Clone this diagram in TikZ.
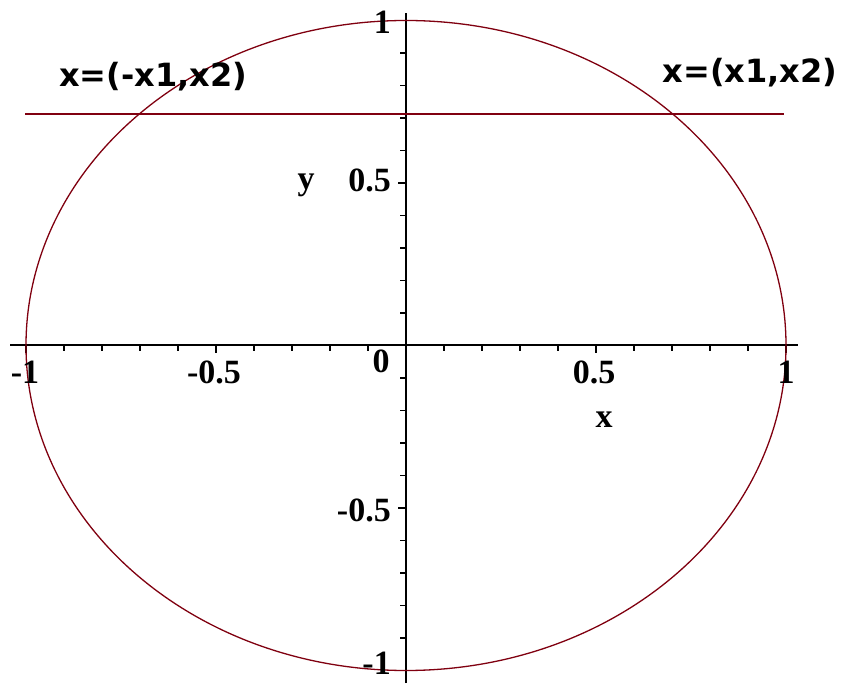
\documentclass[tikz,border=0pt]{standalone}
\usepackage{fontspec}
\newfontfamily\lblfont{DejaVu Sans}
\newfontfamily\tickfont{Liberation Serif}
\definecolor{curvered}{RGB}{128,0,16}
\begin{document}
\begin{tikzpicture}[x=1pt,y=1pt,
  axisline/.style={line width=2pt,black},
  tickmark/.style={line width=1.6pt,black},
  curve/.style={line width=1.3pt,curvered},
  ticklabel/.style={font=\tickfont\bfseries\fontsize{34}{34}\selectfont, inner sep=0pt},
  axlabel/.style={font=\tickfont\bfseries\fontsize{34}{34}\selectfont, inner sep=0pt, anchor=base},
  eqlabel/.style={font=\lblfont\bfseries\fontsize{32}{32}\selectfont, inner sep=0pt}]
\useasboundingbox (0,0) rectangle (843,683);
\fill[white] (0,0) rectangle (843,683);
% origin of the plot
\coordinate (O) at (406,337.5);
\coordinate (xl) at (10,337.5);
\coordinate (xr) at (798,337.5);
\coordinate (yb) at (406,0);
\coordinate (yt) at (406,670);
\draw[axisline] (xl) -- (xr);
\draw[axisline] (yb) -- (yt);
% ticks
\foreach \i in {-10,...,10}{
  \pgfmathsetmacro\len{ifthenelse(mod(abs(\i),5)==0,8,6)}
  \ifnum\i=0\else
    \draw[tickmark] (406+\i*38,337.5) -- ++(0,-\len);
    \draw[tickmark] (406,337.5+\i*32.5) -- ++(-\len,0);
  \fi
}
% curve and horizontal line
\draw[curve] (O) ellipse [x radius=380, y radius=325];
\coordinate (hl) at (25,569);
\coordinate (hr) at (784,569);
\draw[curve] (hl) -- (hr);
% equation labels
\node[eqlabel] (pl) at (153,606.5) {x=(-x1,x2)};
\node[eqlabel] (pr) at (750,610) {x=(x1,x2)};
% x tick labels
\node[ticklabel] (xm1) at (25,311) {-1};
\node[ticklabel] (xm05) at (214,311) {-0.5};
\node[ticklabel] (x0) at (381,322) {0};
\node[ticklabel] (xp05) at (594,311) {0.5};
\node[ticklabel] (xp1) at (786,311) {1};
% y tick labels
\node[ticklabel,anchor=east] (yp1) at (391,661) {1};
\node[ticklabel,anchor=east] (yp05) at (391,503) {0.5};
\node[ticklabel,anchor=east] (ym05) at (391,173) {-0.5};
\node[ticklabel,anchor=east] (ym1) at (391,20) {-1};
% axis names
\node[axlabel] (ylab) at (306,493) {y};
\node[axlabel] (xlab) at (604,255) {x};
\end{tikzpicture}
\end{document}
